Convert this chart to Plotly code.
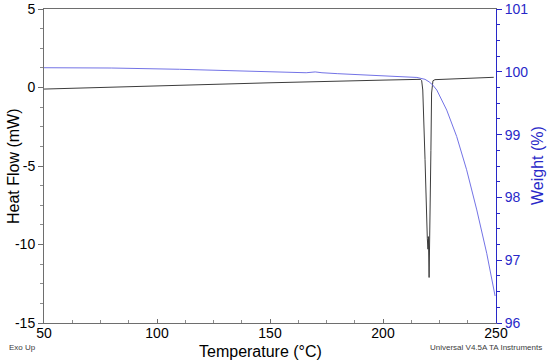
import plotly.graph_objects as go

# Heat flow (mW) vs temperature (°C)
hf_temp = [50, 100, 150, 200, 215, 216.5, 217.1, 217.6, 218.6, 219.3, 219.6, 219.9, 220.1, 220.4,
           220.6, 220.7, 220.75, 220.85, 221.0, 221.2, 221.5, 222.1, 223, 235, 249]
hf_val = [-0.1, 0.12, 0.3, 0.47, 0.53, 0.52, 0.45, -0.16, -4.6, -9.27, -9.6, -10.3, -9.5, -12.1,
          -10.5, -9.0, -9.6, -9.1, -7.5, -4.0, -0.35, 0.43, 0.5, 0.57, 0.65]

# Weight (%) vs temperature (°C)
wt_temp = [50, 80, 110, 140, 160, 166, 170, 173, 180, 203, 215, 218.6, 220.4, 222, 223.8,
           228.2, 232.6, 237.0, 241.5, 245.9, 248.8, 249.6]
wt_val = [100.065, 100.06, 100.04, 100.01, 99.985, 99.985, 99.998, 99.985, 99.97, 99.935, 99.91,
          99.88, 99.84, 99.79, 99.71, 99.39, 98.97, 98.44, 97.8, 97.11, 96.58, 96.43]

# Tick labels
x_ticks = [50, 100, 150, 200, 250]
hf_ticks = [-15, -10, -5, 0, 5]
hf_ticklabels = ["-15", "-10", "-5", "0", "5"]
wt_ticks = [96, 97, 98, 99, 100, 101]

BLUE = "rgb(40,40,200)"
GRAY = "rgb(110,110,110)"
FONT = "Liberation Sans, Arial, sans-serif"

W, H = 550, 361
L, R, T, B = 44, 54, 9, 38
pw, ph = W - L - R, H - T - B


def px(x):
    return (x - L) / pw


def py(y):
    return (H - B - y) / ph


fig = go.Figure()
fig.add_trace(go.Scatter(x=hf_temp, y=hf_val, mode="lines",
                         line=dict(color="rgb(60,60,60)", width=1), yaxis="y"))
fig.add_trace(go.Scatter(x=wt_temp, y=wt_val, mode="lines",
                         line=dict(color="rgb(115,115,230)", width=1), yaxis="y2"))

fig.update_layout(
    width=W, height=H,
    margin=dict(l=L, r=R, t=T, b=B, autoexpand=False),
    paper_bgcolor="white", plot_bgcolor="white",
    showlegend=False,
    font=dict(family=FONT, size=14, color="black"),
    xaxis=dict(range=[50, 250], tickvals=x_ticks, showgrid=False, zeroline=False,
               showline=True, linecolor=GRAY, linewidth=1, mirror=True, automargin=False,
               ticks="inside", ticklen=4, tickcolor=GRAY, ticklabelstandoff=-3,
               minor=dict(dtick=12.5, ticks="inside", ticklen=3, tickcolor="rgb(140,140,140)"),
               tickfont=dict(size=14)),
    yaxis=dict(range=[-15, 5], tickvals=hf_ticks, ticktext=hf_ticklabels, showgrid=False,
               zeroline=False, automargin=False,
               showline=True, linecolor=GRAY, linewidth=1,
               ticks="outside", ticklen=5, tickcolor=GRAY,
               minor=dict(dtick=1.25, ticks="outside", ticklen=3, tickcolor="rgb(140,140,140)"),
               tickfont=dict(size=14)),
    yaxis2=dict(range=[96, 101], tickvals=wt_ticks, overlaying="y", side="right", showgrid=False,
                zeroline=False, showline=True, linecolor=BLUE, linewidth=1, automargin=False,
                ticks="outside", ticklen=5, tickcolor=BLUE,
                minor=dict(dtick=0.25, ticks="outside", ticklen=3, tickcolor=BLUE),
                tickfont=dict(size=14, color=BLUE)),
    annotations=[
        dict(text="Temperature (°C)", x=px(260), y=py(351), xref="paper", yref="paper",
             showarrow=False, xanchor="center", yanchor="middle", font=dict(size=16)),
        dict(text="Heat Flow (mW)", x=px(13), y=py(166), xref="paper", yref="paper",
             showarrow=False, xanchor="center", yanchor="middle", textangle=-90,
             font=dict(size=16)),
        dict(text="Weight (%)", x=px(537), y=py(166), xref="paper", yref="paper",
             showarrow=False, xanchor="center", yanchor="middle", textangle=-90,
             font=dict(size=16, color=BLUE)),
        dict(text="Exo Up", x=px(22), y=py(347), xref="paper", yref="paper", showarrow=False,
             xanchor="center", yanchor="middle", font=dict(size=8, color="rgb(60,60,60)")),
        dict(text="Universal V4.5A TA Instruments", x=px(486), y=py(347), xref="paper",
             yref="paper", showarrow=False, xanchor="center", yanchor="middle",
             font=dict(size=8, color="rgb(60,60,60)")),
    ],
)

fig.write_html("out.html", config={"displayModeBar": False},
               post_script="document.body.style.margin='0';document.body.style.overflow='hidden';")
